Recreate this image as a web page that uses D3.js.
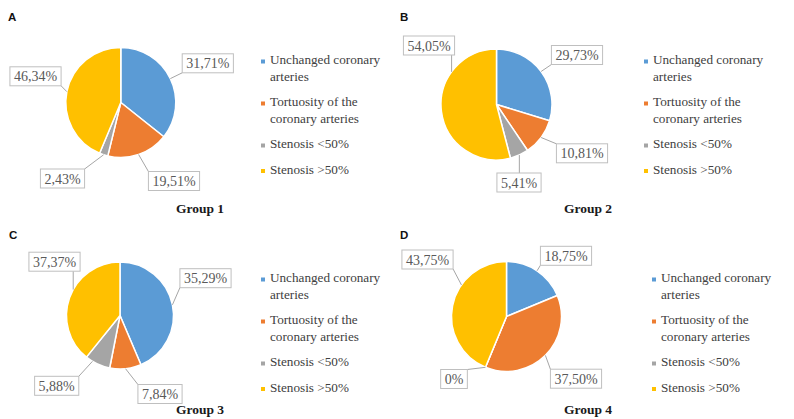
<!DOCTYPE html>
<html>
<head>
<meta charset="utf-8">
<script src="https://cdn.jsdelivr.net/npm/d3@7"></script>
<style>
  html, body { margin: 0; padding: 0; background: #ffffff; }
  svg { display: block; }
</style>
</head>
<body>
<svg id="chart" width="794" height="419"></svg>
<script>
// ---------- data ----------
const categories = ["Unchanged coronary arteries", "Tortuosity of the coronary arteries", "Stenosis <50%", "Stenosis >50%"];
const legendLines = [["Unchanged coronary", "arteries"], ["Tortuosity of the", "coronary arteries"], ["Stenosis <50%"], ["Stenosis >50%"]];
const panelLetters = ["A", "B", "C", "D"];
const groupTitles = ["Group 1", "Group 2", "Group 3", "Group 4"];

// slice shares as drawn in the picture
const group1Shares = [35.7, 18.1, 2.5, 43.7];
const group2Shares = [29.73, 10.81, 5.41, 54.05];
const group3Shares = [43.6, 9.5, 7.7, 39.2];
const group4Shares = [18.75, 37.50, 0, 43.75];

// data label texts as printed
const group1Labels = ["31,71%", "19,51%", "2,43%", "46,34%"];
const group2Labels = ["29,73%", "10,81%", "5,41%", "54,05%"];
const group3Labels = ["35,29%", "7,84%", "5,88%", "37,37%"];
const group4Labels = ["18,75%", "37,50%", "0%", "43,75%"];

const sliceColors = ["#5b9bd5", "#ed7d31", "#a5a5a5", "#ffc000"];

// ---------- layout ----------
const layout = [
  { cx: 120.8, cy: 102.5, r: 55, letter: [8, 21], legendX: 261, legendY: 64, title: [200, 213],
    boxes: [[207.8, 63.3], [174, 181], [62.5, 178.5], [35.5, 76.3]], anchor: {} },
  { cx: 496.5, cy: 104.5, r: 55.5, letter: [400, 21], legendX: 644, legendY: 64, title: [588, 213],
    boxes: [[577, 55], [582, 153.3], [519, 182.5], [429, 45.5]], anchor: { 3: 306 } },
  { cx: 120, cy: 315.5, r: 53.5, letter: [9, 238.5], legendX: 261, legendY: 282, title: [200, 414],
    boxes: [[205.5, 278.2], [160, 394], [56.7, 385.8], [54.5, 261.7]], anchor: { 2: 211, 3: 299 } },
  { cx: 506.5, cy: 316.5, r: 55, letter: [400, 238.5], legendX: 652, legendY: 282, title: [588, 414],
    boxes: [[566, 255.8], [576, 378.7], [454, 379], [427.5, 259.5]], anchor: { 3: 305 } }
];

const panelShares = [group1Shares, group2Shares, group3Shares, group4Shares];
const panelLabels = [group1Labels, group2Labels, group3Labels, group4Labels];

const color = d3.scaleOrdinal().domain(categories).range(sliceColors);
const pie = d3.pie().sort(null).value(d => d.value);

const svg = d3.select("#chart");
const serif = "Liberation Serif";
const sans = "Liberation Sans";

// text measurer
const measure = svg.append("text").style("font-family", serif).style("font-size", "14px").attr("x", -1000).attr("y", -1000);
function textWidth(t) { measure.text(t); return measure.node().getComputedTextLength(); }

layout.forEach((L, pi) => {
  const g = svg.append("g");
  const data = categories.map((c, i) => ({ cat: c, value: panelShares[pi][i], label: panelLabels[pi][i] }));
  const arcs = pie(data);
  const arc = d3.arc().innerRadius(0).outerRadius(L.r);

  // panel letter
  g.append("text").attr("x", L.letter[0]).attr("y", L.letter[1])
    .style("font-family", sans).style("font-weight", "bold").style("font-size", "11.5px")
    .attr("fill", "#111").text(panelLetters[pi]);

  // slices
  const pg = g.append("g").attr("transform", `translate(${L.cx},${L.cy})`);
  pg.selectAll("path").data(arcs).join("path")
    .attr("d", arc)
    .attr("fill", d => color(d.data.cat))
    .attr("stroke", "#ffffff")
    .attr("stroke-width", 1.5)
    .attr("stroke-linejoin", "round");

  // labels with leader lines
  arcs.forEach((a, i) => {
    const [bx, by] = L.boxes[i];
    const tw = textWidth(a.data.label);
    const w = tw + 8, h = 19;
    const x0 = bx - w / 2, y0 = by - h / 2;
    const angDeg = (L.anchor[i] !== undefined) ? L.anchor[i] : ((a.startAngle + a.endAngle) / 2) * 180 / Math.PI;
    const ang = angDeg * Math.PI / 180;
    const ax = L.cx + L.r * Math.sin(ang);
    const ay = L.cy - L.r * Math.cos(ang);
    const ex = Math.max(x0, Math.min(x0 + w, ax));
    const ey = Math.max(y0, Math.min(y0 + h, ay));
    g.append("line").attr("x1", ax).attr("y1", ay).attr("x2", ex).attr("y2", ey)
      .attr("stroke", "#a6a6a6").attr("stroke-width", 1);
    g.append("rect").attr("x", x0).attr("y", y0).attr("width", w).attr("height", h)
      .attr("fill", "#ffffff").attr("stroke", "#bfbfbf").attr("stroke-width", 1);
    g.append("text").attr("x", bx).attr("y", by + 5)
      .attr("text-anchor", "middle").style("font-family", serif).style("font-size", "14px")
      .attr("fill", "#595959").text(a.data.label);
  });

  // legend
  const lineH = 16.5, entryGap = 25.5;
  let y = L.legendY;
  categories.forEach((c, i) => {
    g.append("rect").attr("x", L.legendX).attr("y", y - 4.5).attr("width", 4).attr("height", 4)
      .attr("fill", color(c));
    legendLines[i].forEach((ln, k) => {
      g.append("text").attr("x", L.legendX + 9).attr("y", y + k * lineH)
        .style("font-family", serif).style("font-size", "13.2px").attr("fill", "#404040").text(ln);
    });
    y += (legendLines[i].length - 1) * lineH + entryGap;
  });

  // group title
  g.append("text").attr("x", L.title[0]).attr("y", L.title[1]).attr("text-anchor", "middle")
    .style("font-family", serif).style("font-weight", "bold").style("font-size", "13.5px")
    .attr("fill", "#1a1a1a").text(groupTitles[pi]);
});
measure.remove();
</script>
</body>
</html>
